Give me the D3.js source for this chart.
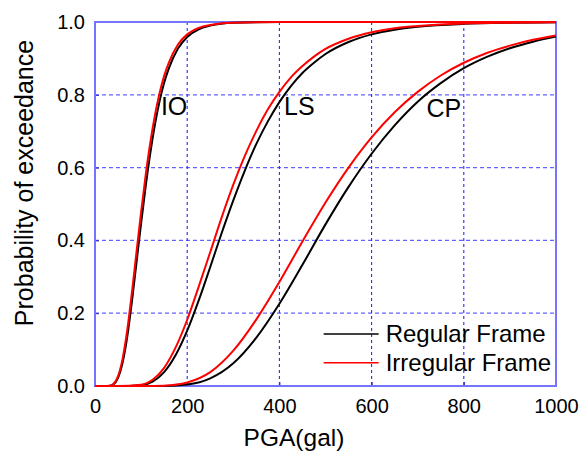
<!DOCTYPE html>
<html>
<head>
<meta charset="utf-8">
<script src="https://cdn.jsdelivr.net/npm/d3@7"></script>
<style>
  body { margin: 0; background: #fff; }
  svg text { font-family: "Liberation Sans", Arial, sans-serif; fill: #000; }
</style>
</head>
<body>
<svg id="chart" width="579" height="455"></svg>
<script>
// PGA sample points (gal) for each damage state
const pgaIO = [0, 20, 30, 40, 50, 60, 70, 80, 90, 100, 110, 120, 130, 140, 150, 160, 180, 200, 225, 250, 300, 400, 600, 1000];
const pgaLS = [0, 50, 100, 125, 150, 175, 200, 225, 250, 275, 300, 325, 350, 375, 400, 425, 450, 475, 500, 550, 600, 650, 700, 800, 900, 1000];
const pgaCP = [0, 100, 150, 200, 250, 300, 350, 400, 450, 500, 550, 600, 650, 700, 750, 800, 850, 900, 950, 1000];

// probability of exceedance
const ioRegular   = [0, 0, 0.0003, 0.0045, 0.0225, 0.065, 0.136, 0.231, 0.339, 0.447, 0.549, 0.640, 0.718, 0.782, 0.833, 0.872, 0.927, 0.959, 0.980, 0.990, 0.998, 1, 1, 1];
const ioIrregular = [0, 0, 0.0005, 0.0057, 0.027, 0.076, 0.154, 0.256, 0.368, 0.478, 0.580, 0.669, 0.744, 0.804, 0.852, 0.888, 0.938, 0.966, 0.984, 0.992, 0.998, 1, 1, 1];
const lsRegular   = [0, 0, 0.0023, 0.0122, 0.038, 0.085, 0.152, 0.235, 0.327, 0.421, 0.510, 0.592, 0.665, 0.727, 0.780, 0.824, 0.860, 0.888, 0.912, 0.945, 0.966, 0.979, 0.987, 0.995, 0.998, 0.999];
const lsIrregular = [0, 0, 0.0036, 0.0173, 0.050, 0.106, 0.182, 0.273, 0.368, 0.464, 0.553, 0.632, 0.701, 0.760, 0.808, 0.848, 0.879, 0.905, 0.926, 0.954, 0.972, 0.983, 0.989, 0.996, 0.998, 0.999];
const cpRegular   = [0, 0, 0.0003, 0.0041, 0.021, 0.0625, 0.133, 0.226, 0.333, 0.444, 0.547, 0.638, 0.716, 0.781, 0.832, 0.873, 0.904, 0.928, 0.946, 0.960];
const cpIrregular = [0, 0, 0.001, 0.0096, 0.038, 0.097, 0.183, 0.286, 0.397, 0.504, 0.600, 0.683, 0.752, 0.808, 0.853, 0.888, 0.915, 0.935, 0.951, 0.963];

const xTicks = [0, 200, 400, 600, 800, 1000];
const yTicks = [0, 0.2, 0.4, 0.6, 0.8, 1.0];

const stateLabels = [
    { text: "IO", pga: 143, p: 0.745 },
    { text: "LS", pga: 410, p: 0.745 },
    { text: "CP", pga: 719, p: 0.74 }
];
const legendItems = [
    { name: "Regular Frame", color: "#000" },
    { name: "Irregular Frame", color: "#ff0000" }
];

const margin = { top: 22, right: 23, bottom: 69, left: 95 };
const width = 579 - margin.left - margin.right;
const height = 455 - margin.top - margin.bottom;

const svg = d3.select("#chart");
const g = svg.append("g")
    .attr("transform", `translate(${margin.left},${margin.top})`);

const x = d3.scaleLinear().domain([0, 1000]).range([0, width]);
const y = d3.scaleLinear().domain([0, 1]).range([height, 0]);

// grid
g.append("g").selectAll("line")
    .data(yTicks.slice(1, -1))
    .join("line")
    .attr("x1", 0).attr("x2", width)
    .attr("y1", d => y(d)).attr("y2", d => y(d))
    .attr("stroke", "#6464ff")
    .attr("stroke-width", 1.3)
    .attr("stroke-dasharray", "4,3");

g.append("g").selectAll("line")
    .data(xTicks.slice(1, -1))
    .join("line")
    .attr("x1", d => x(d)).attr("x2", d => x(d))
    .attr("y1", 0).attr("y2", height)
    .attr("stroke", "#2a2aff")
    .attr("stroke-width", 1.1)
    .attr("stroke-dasharray", "3,3");

// axes
const xAxis = g.append("g")
    .attr("transform", `translate(0,${height})`)
    .call(d3.axisBottom(x).tickValues(xTicks).tickFormat(d3.format("d")).tickSize(-4).tickPadding(13));
const yAxis = g.append("g")
    .call(d3.axisLeft(y).tickValues(yTicks).tickFormat(d3.format(".1f")).tickSize(-4).tickPadding(10));

[xAxis, yAxis].forEach(a => {
    a.select(".domain").remove();
    a.selectAll(".tick line").attr("stroke", "#2222cc");
    a.selectAll(".tick text")
        .style("font-size", "20px")
        .style("font-family", "'Liberation Sans', Arial, sans-serif")
        .attr("fill", "#000");
});

// frame
g.append("rect")
    .attr("width", width).attr("height", height)
    .attr("fill", "none")
    .attr("stroke", "#7474ff")
    .attr("stroke-width", 2);

// curves
const line = d3.line()
    .x(d => x(d[0]))
    .y(d => y(d[1]))
    .curve(d3.curveMonotoneX);

const series = [
    { pga: pgaIO, p: ioRegular, color: "#000" },
    { pga: pgaLS, p: lsRegular, color: "#000" },
    { pga: pgaCP, p: cpRegular, color: "#000" },
    { pga: pgaIO, p: ioIrregular, color: "#ff0000" },
    { pga: pgaLS, p: lsIrregular, color: "#ff0000" },
    { pga: pgaCP, p: cpIrregular, color: "#ff0000" }
];

g.selectAll(".curve")
    .data(series)
    .join("path")
    .attr("class", "curve")
    .attr("d", d => line(d3.zip(d.pga, d.p)))
    .attr("fill", "none")
    .attr("stroke", d => d.color)
    .attr("stroke-width", 2);

// damage state labels
g.selectAll(".state")
    .data(stateLabels)
    .join("text")
    .attr("class", "state")
    .attr("x", d => x(d.pga))
    .attr("y", d => y(d.p))
    .style("font-size", "25px")
    .text(d => d.text);

// legend
const legend = g.append("g")
    .attr("transform", `translate(${x(496)},${y(0.143)})`);
legendItems.forEach((item, i) => {
    const row = legend.append("g").attr("transform", `translate(0,${i * 28.7})`);
    row.append("line")
        .attr("x1", 0).attr("x2", 55)
        .attr("y1", 0).attr("y2", 0)
        .attr("stroke", item.color)
        .attr("stroke-width", 1.5);
    row.append("text")
        .attr("x", 62).attr("y", 8.5)
        .style("font-size", "24px")
        .text(item.name);
});

// axis titles
svg.append("text")
    .attr("x", 294).attr("y", 446)
    .attr("text-anchor", "middle")
    .style("font-size", "24.5px")
    .text("PGA(gal)");

svg.append("text")
    .attr("transform", "translate(33,183) rotate(-90)")
    .attr("text-anchor", "middle")
    .style("font-size", "25px")
    .text("Probability of exceedance");
</script>
</body>
</html>
